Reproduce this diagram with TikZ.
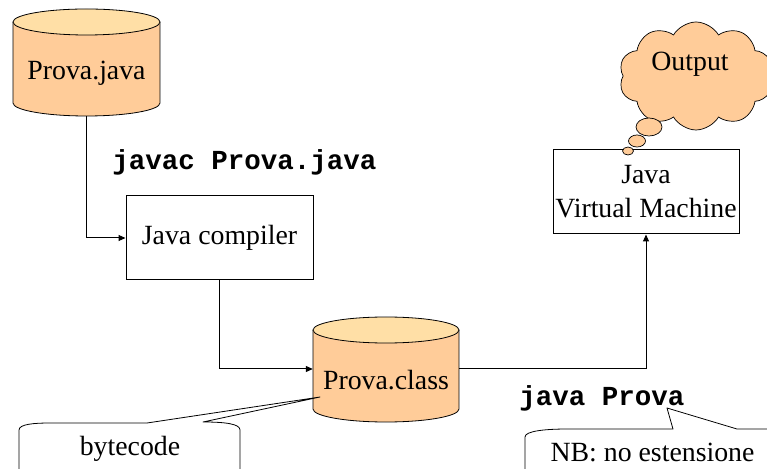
\documentclass[tikz,border=0pt]{standalone}
\usepackage{fontspec}
\setmainfont{Liberation Serif}
\setmonofont{Liberation Mono}
\usetikzlibrary{arrows.meta,shapes.symbols}
\definecolor{cylbody}{HTML}{FFCC99}
\definecolor{cyltop}{HTML}{FFDFA6}
\tikzset{
  txt/.style={font=\fontsize{27.8}{34}\selectfont, inner sep=0pt},
  cmd/.style={font=\fontsize{27.5}{34}\selectfont\ttfamily\bfseries, inner sep=0pt},
  procbox/.style={draw, line width=1pt, rectangle, inner sep=0pt, font=\fontsize{27.8}{34}\selectfont, align=center},
  anchorbox/.style={rectangle, inner sep=0pt},
  conn/.style={line width=1pt, -{Triangle[length=7pt,width=6pt]}},
  callout/.style={draw, fill=white, line width=0.8pt, line join=round},
  bubble/.style={draw, fill=cylbody, line width=0.7pt}
}
\newcommand{\mycyl}[5]{% cx, top center Y, bottom center Y, rx, ry
  \fill[cylbody] (#1-#4,#2) rectangle (#1+#4,#3);
  \fill[cylbody] (#1,#3) ellipse [x radius=#4, y radius=#5];
  \draw[line width=0.8pt] (#1-#4,#2) -- (#1-#4,#3) arc[start angle=180, end angle=360, x radius=#4, y radius=#5] -- (#1+#4,#2);
  \draw[line width=0.8pt, fill=cyltop] (#1,#2) ellipse [x radius=#4, y radius=#5];
}
\begin{document}
\begin{tikzpicture}[x=1pt,y=1pt]
\clip (0,0) rectangle (767,468);
\fill[white] (0,0) rectangle (767,468);

% Prova.java cylinder
\mycyl{86.5}{446}{365}{73.5}{13}
\node[anchorbox, minimum width=147, minimum height=81] (pj) at (86.5,392.5) {};
\node[txt] (pjt) at (86.5,395) {Prova.java};

% Java compiler
\node[procbox, minimum width=187, minimum height=84] (comp) at (219.5,230) {Java compiler};

% Prova.class cylinder
\mycyl{386}{138}{59}{73}{13}
\node[anchorbox, minimum width=146, minimum height=60] (pc) at (386,99) {};
\node[txt] (pct) at (386,88) {Prova.class};

% JVM
\node[procbox, minimum width=186, minimum height=84] (jvm) at (646,276) {Java\\Virtual Machine};

% Cloud
\node[cloud, cloud puffs=10, cloud puff arc=120, aspect=1.45, draw, fill=cylbody, line width=0.7pt,
      minimum width=154, minimum height=108, inner sep=0pt] (out) at (696,392) {};
\node[txt] (outt) at (690,404) {Output};
\draw[bubble] (649,341) ellipse [x radius=13, y radius=9] node (b1) {};
\draw[bubble] (637,327) ellipse [x radius=8.5, y radius=6] node (b2) {};
\draw[bubble] (628,317) ellipse [x radius=5.5, y radius=4] node (b3) {};

% connectors
\draw[conn] (pj.south) |- (comp.west);
\draw[conn] (comp.south) |- (pc.west);
\draw[conn] (pc.east) -| (jvm.south);

% command labels
\node[cmd] (javac) at (244.5,306) {javac Prova.java};
\node[cmd] (javarun) at (602,70) {java Prova};

% bytecode callout
\draw[callout] (19,-5) -- (19,38) .. controls (19,44) and (35,45) .. (50,45) -- (147,45) -- (320,71) -- (203,46)
  .. controls (226,46) and (240,44) .. (240,38) -- (240,-5);
\node[txt] (bc) at (130,19) {bytecode};

% NB callout
\draw[callout] (525,-5) -- (525,31) .. controls (525,37) and (545,39) .. (568,39) -- (673,39) -- (667,60) -- (737,39) -- (780,39) -- (780,-5);
\node[txt] (nb) at (652.5,16) {NB: no estensione};
\end{tikzpicture}
\end{document}
